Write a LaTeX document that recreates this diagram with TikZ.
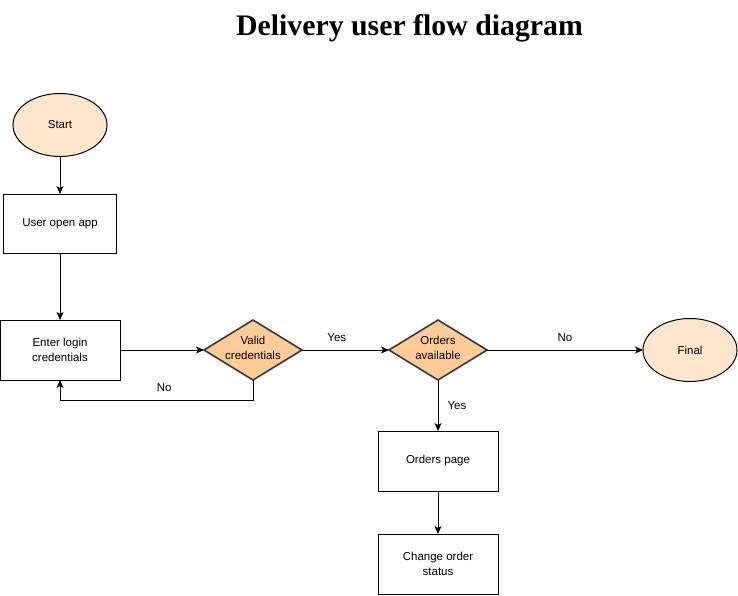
\documentclass[tikz,border=0pt]{standalone}
\usepackage{fontspec}
\setmainfont{Liberation Serif}
\setsansfont{Liberation Sans}
\usepackage{tkz-graph}
\usetikzlibrary{shapes.geometric,arrows.meta}
\definecolor{startfill}{HTML}{FFE6CC}
\definecolor{diamondfill}{HTML}{FFCC99}
\definecolor{diamondline}{HTML}{36393D}

\begin{document}
\begin{tikzpicture}[x=1pt,y=-1pt]
\useasboundingbox (0,0) rectangle (738,595);
\def \midx {438}
\node[font=\bfseries\fontsize{29.8}{34}\selectfont,anchor=base] (title) at (409.5,35.5) {Delivery user flow diagram};

   \tikzset{VertexStyle/.style = {shape = ellipse, draw = black, fill = startfill, line width = 1pt, minimum width = 94pt, minimum height = 63pt, inner sep = 0pt, font = \sffamily\fontsize{11.5}{14}\selectfont}}
   \Vertex[x=60 ,y=125,L={Start}]{start}
   \Vertex[x=690 ,y=350,L={Final}]{final}

   \tikzset{VertexStyle/.style = {shape = rectangle, draw = black, fill = white, line width = 1pt, minimum width = 120pt, minimum height = 60pt, inner sep = 0pt, align = center, font = \sffamily\fontsize{11.5}{14.5}\selectfont}}
   \Vertex[x=60 ,y=350,L={Enter login\\credentials}]{login}
   \Vertex[x=\midx ,y=461,L={Orders page}]{page}
   \Vertex[x=\midx ,y=564,L={Change order\\status}]{status}
   \tikzset{VertexStyle/.append style = {minimum width = 113pt, minimum height = 59pt}}
   \Vertex[x=60 ,y=223.5,L={User open app}]{open}

   \tikzset{VertexStyle/.style = {shape = diamond, shape aspect = 1.633, draw = diamondline, fill = diamondfill, line width = 1.6pt, minimum width = 98pt, minimum height = 60pt, inner xsep = -8pt, inner ysep = 0pt, align = center, font = \sffamily\fontsize{11.5}{15}\selectfont}}
   \Vertex[x=253 ,y=350,L={Valid\\credentials\strut}]{valid}
   \Vertex[x=\midx ,y=350,L={Orders\\available\strut}]{orders}

   \tikzset{EdgeStyle/.style = {-{Stealth[length=8pt,width=7pt,inset=2pt]}, line width = 1pt, black}}
   \tikzset{LabelStyle/.style = {above = 8pt, inner sep = 0pt, fill = none, text = black, font = \sffamily\fontsize{11.5}{14}\selectfont}}
	\Edge(start)(open)
	\Edge(open)(login)
	\Edge(login)(valid)
	\Edge[label=Yes, labelstyle={pos=.4}](valid)(orders)
	\Edge[label=No](orders)(final)
	\begin{scope}
	\tikzset{LabelStyle/.append style = {right = 9pt, yshift = -8pt}}
	\Edge[label=Yes](orders)(page)
	\end{scope}
	\Edge(page)(status)
%  back to the login box
	\draw[EdgeStyle] (valid.south) -- ++(0,20) -| node[LabelStyle, pos=.23]{No} (login.south);
\end{tikzpicture}
\end{document}
